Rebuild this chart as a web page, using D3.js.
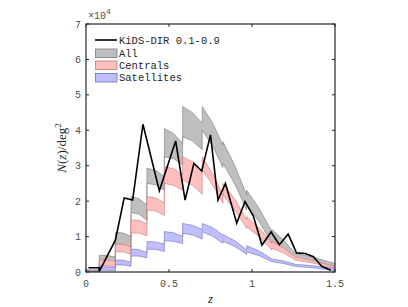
<!DOCTYPE html>
<html>
<head>
<meta charset="UTF-8">
<script src="https://d3js.org/d3.v7.min.js"></script>
<style>
  body { margin: 0; background: #fff; }
  .tick-label { font-family: "Liberation Mono", monospace; font-size: 10px; fill: #4d4d4d; }
  .legend-text { font-family: "Liberation Mono", monospace; font-size: 10.5px; fill: #262626; }
  .axis-title { font-family: "Liberation Serif", serif; font-style: italic; font-size: 13px; fill: #262626; }
</style>
</head>
<body>
<div id="chart"></div>
<script>
// KiDS-DIR n(z), values in units of 1e4 per deg^2
const dirZ = [0.015, 0.08, 0.08, 0.177, 0.23, 0.281, 0.343, 0.442, 0.54, 0.597, 0.65, 0.697, 0.75, 0.795, 0.84,
              0.908, 0.958, 1.008, 1.06, 1.115, 1.165, 1.218, 1.268, 1.32, 1.37, 1.42, 1.475];
const dirN = [0.12, 0.12, 0.02, 0.9, 2.09, 2.03, 4.17, 2.29, 3.7, 2.03, 3.07, 2.85, 3.87, 2.03, 2.5,
              1.38, 1.99, 1.58, 0.76, 1.13, 0.77, 1.07, 0.54, 0.52, 0.43, 0.16, 0.05];

// mock segments (start, middle, end z) and band limits at those three points
const segZ = [[0, 0.04, 0.08], [0.08, 0.128, 0.177], [0.177, 0.224, 0.271], [0.271, 0.319, 0.367],
              [0.367, 0.42, 0.472], [0.472, 0.527, 0.582], [0.582, 0.641, 0.70], [0.70, 0.763, 0.825],
              [0.825, 0.897, 0.968], [0.968, 1.044, 1.12], [1.12, 1.19, 1.26], [1.26, 1.38, 1.5]];

const allHi = [[0.06, 0.06, 0.06], [0.47, 0.47, 0.42], [1.12, 1.10, 1.0], [2.13, 2.07, 1.89],
               [2.93, 2.87, 2.69], [4.05, 3.91, 3.63], [4.67, 4.5, 4.2], [4.67, 4.2, 3.58],
               [3.68, 3.0, 2.17], [2.31, 1.79, 1.14], [1.2, 0.9, 0.53], [0.53, 0.40, 0.24]];
const allLo = [[0.0, 0.0, 0.0], [0.28, 0.29, 0.24], [0.8, 0.78, 0.68], [1.68, 1.63, 1.47],
               [2.5, 2.46, 2.31], [3.25, 3.2, 3.02], [3.82, 3.7, 3.45], [4.0, 3.55, 2.95],
               [3.07, 2.48, 1.75], [1.89, 1.41, 0.81], [0.86, 0.66, 0.39], [0.39, 0.29, 0.15]];

const cenHi = [[0.03, 0.03, 0.03], [0.34, 0.34, 0.3], [0.79, 0.78, 0.7], [1.47, 1.46, 1.35],
               [2.13, 2.09, 1.95], [2.97, 2.92, 2.75], [3.25, 3.11, 2.85], [3.25, 2.77, 2.17],
               [2.5, 2.05, 1.47], [1.56, 1.24, 0.81], [0.86, 0.68, 0.43], [0.43, 0.31, 0.15]];
const cenLo = [[0.0, 0.0, 0.0], [0.18, 0.18, 0.15], [0.57, 0.57, 0.5], [1.1, 1.1, 1.02],
               [1.75, 1.72, 1.6], [2.5, 2.45, 2.3], [2.6, 2.45, 2.2], [2.88, 2.46, 1.94],
               [2.17, 1.75, 1.23], [1.28, 0.99, 0.62], [0.67, 0.54, 0.34], [0.34, 0.24, 0.1]];

const satHi = [[0.02, 0.02, 0.02], [0.15, 0.145, 0.12], [0.34, 0.33, 0.28], [0.65, 0.63, 0.55],
               [0.86, 0.85, 0.78], [1.14, 1.11, 1.0], [1.37, 1.32, 1.2], [1.37, 1.25, 1.04],
               [1.06, 0.88, 0.62], [0.74, 0.59, 0.37], [0.37, 0.31, 0.22], [0.22, 0.17, 0.1]];
const satLo = [[0.0, 0.0, 0.0], [0.05, 0.05, 0.04], [0.2, 0.2, 0.16], [0.45, 0.45, 0.4],
               [0.64, 0.64, 0.58], [0.88, 0.87, 0.8], [1.09, 1.05, 0.93], [1.14, 1.01, 0.81],
               [0.87, 0.72, 0.5], [0.57, 0.46, 0.29], [0.29, 0.24, 0.16], [0.16, 0.11, 0.04]];

const xTicks = [0, 0.5, 1, 1.5];
const yTicks = [0, 1, 2, 3, 4, 5, 6, 7];
const legendLabels = ["KiDS-DIR 0.1-0.9", "All", "Centrals", "Satellites"];

const W = 408, H = 307;
const plot = {left: 86, right: 335, top: 24, bottom: 272};

const svg = d3.select("#chart").append("svg")
  .attr("width", W).attr("height", H);

const x = d3.scaleLinear().domain([0, 1.5]).range([plot.left, plot.right]);
const y = d3.scaleLinear().domain([0, 7]).range([plot.bottom, plot.top]);

svg.append("clipPath").attr("id", "clip")
  .append("rect")
  .attr("x", plot.left).attr("y", plot.top)
  .attr("width", plot.right - plot.left).attr("height", plot.bottom - plot.top);

function bandPoints(hi, lo) {
  const pts = [];
  segZ.forEach((s, i) => {
    s.forEach((z, k) => pts.push({z: z, hi: hi[i][k], lo: lo[i][k]}));
  });
  return pts;
}

const area = d3.area()
  .x(d => x(d.z))
  .y0(d => y(d.lo))
  .y1(d => y(d.hi));

const bands = [
  {hi: allHi, lo: allLo, fill: "#bfbfbf", edge: "#7a7a7a"},
  {hi: cenHi, lo: cenLo, fill: "#ffbfbf", edge: "#c87878"},
  {hi: satHi, lo: satLo, fill: "#bfbfff", edge: "#6e6eb4"}
];

const g = svg.append("g").attr("clip-path", "url(#clip)");

bands.forEach(b => {
  g.append("path")
    .datum(bandPoints(b.hi, b.lo))
    .attr("d", area)
    .attr("fill", b.fill)
    .attr("stroke", b.edge)
    .attr("stroke-width", 0.6);
});

const line = d3.line().x((d, i) => x(dirZ[i])).y(d => y(d));
g.append("path")
  .datum(dirN)
  .attr("d", line)
  .attr("fill", "none")
  .attr("stroke", "#000")
  .attr("stroke-width", 1.6)
  .attr("stroke-linejoin", "miter");

// axes box and inward ticks
const axisColor = "#262626";
svg.append("rect")
  .attr("x", plot.left).attr("y", plot.top)
  .attr("width", plot.right - plot.left).attr("height", plot.bottom - plot.top)
  .attr("fill", "none").attr("stroke", axisColor).attr("stroke-width", 1.2);

const tickLen = 3;
yTicks.forEach(t => {
  svg.append("line").attr("x1", plot.left).attr("x2", plot.left + tickLen)
    .attr("y1", y(t)).attr("y2", y(t)).attr("stroke", axisColor);
  svg.append("line").attr("x1", plot.right).attr("x2", plot.right - tickLen)
    .attr("y1", y(t)).attr("y2", y(t)).attr("stroke", axisColor);
  svg.append("text").attr("class", "tick-label")
    .attr("x", plot.left - 5).attr("y", y(t) + 3.5)
    .attr("text-anchor", "end").text(t);
});
xTicks.forEach(t => {
  svg.append("line").attr("x1", x(t)).attr("x2", x(t))
    .attr("y1", plot.bottom).attr("y2", plot.bottom - tickLen).attr("stroke", axisColor);
  svg.append("line").attr("x1", x(t)).attr("x2", x(t))
    .attr("y1", plot.top).attr("y2", plot.top + tickLen).attr("stroke", axisColor);
  svg.append("text").attr("class", "tick-label")
    .attr("x", x(t)).attr("y", 287)
    .attr("text-anchor", "middle").text(t);
});

// exponent
const ex = svg.append("text").attr("class", "tick-label").attr("x", 88).attr("y", 19);
ex.append("tspan").text("\u00d710");
ex.append("tspan").attr("dy", -5).attr("font-size", "8px").text("4");

// axis titles
svg.append("text").attr("class", "axis-title")
  .attr("x", x(0.75)).attr("y", 303).attr("text-anchor", "middle").text("z");

const yl = svg.append("text").attr("class", "axis-title")
  .attr("transform", `translate(66,${(plot.top + plot.bottom) / 2}) rotate(-90)`)
  .attr("text-anchor", "middle");
yl.append("tspan").text("N");
yl.append("tspan").attr("font-style", "normal").text("(");
yl.append("tspan").text("z");
yl.append("tspan").attr("font-style", "normal").text(")/deg");
yl.append("tspan").attr("font-style", "normal").attr("font-size", "9px").attr("dy", -5).text("2");

// legend
const lg = svg.append("g");
const rowY = [40, 53, 65, 77.5];
lg.append("line").attr("x1", 95).attr("x2", 117).attr("y1", rowY[0]).attr("y2", rowY[0])
  .attr("stroke", "#000").attr("stroke-width", 1.6);
bands.forEach((b, i) => {
  lg.append("rect")
    .attr("x", 95.5).attr("y", rowY[i + 1] - 4).attr("width", 21.5).attr("height", 8.5)
    .attr("fill", b.fill).attr("stroke", b.edge).attr("stroke-width", 0.8);
});
legendLabels.forEach((t, i) => {
  lg.append("text").attr("class", "legend-text")
    .attr("x", 119).attr("y", rowY[i] + 3.5).text(t);
});
</script>
</body>
</html>
